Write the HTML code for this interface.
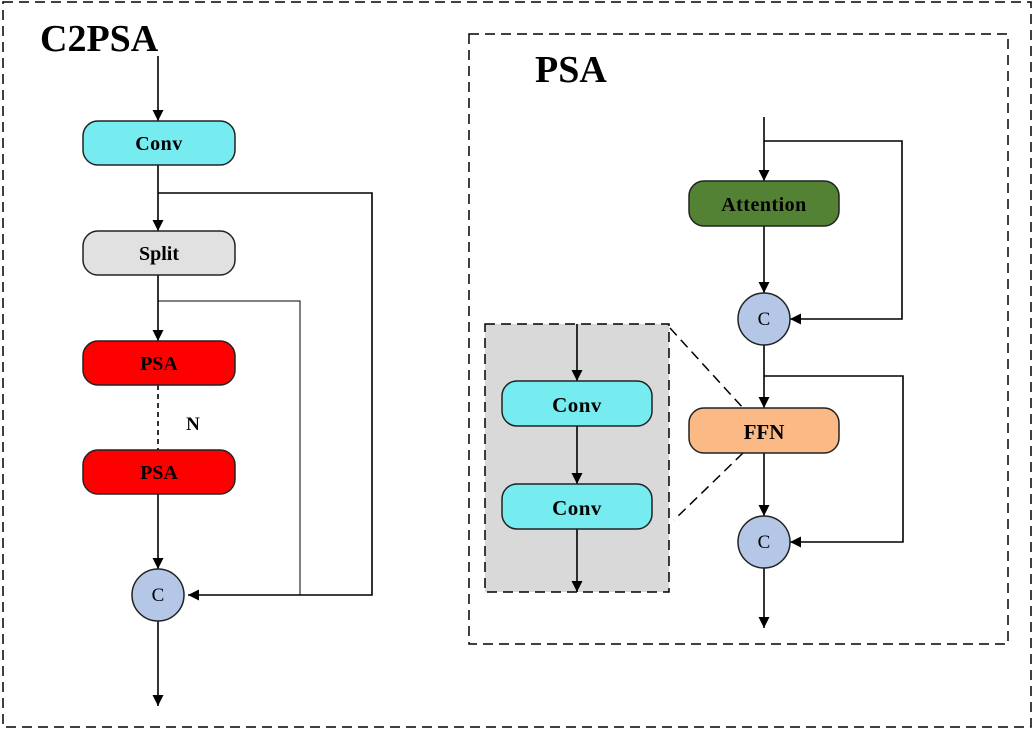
<!DOCTYPE html>
<html><head><meta charset="utf-8"><style>
html,body{margin:0;padding:0;background:#fff;}
svg{display:block;}
text{font-family:"Liberation Serif",serif;font-weight:bold;fill:#000;}
</style></head><body>
<svg width="1034" height="730" viewBox="0 0 1034 730" xmlns="http://www.w3.org/2000/svg">
<defs>
<marker id="a" viewBox="0 0 10 10" refX="10" refY="5" markerWidth="11" markerHeight="11" markerUnits="userSpaceOnUse" orient="auto">
<path d="M0,0 L10,5 L0,10 z" fill="#000"/></marker>
</defs>
<rect x="3" y="2" width="1028" height="725" fill="none" stroke="#000" stroke-width="1.5" stroke-dasharray="10,6"/>
<text x="40" y="51" font-size="38">C2PSA</text>
<g stroke="#000" stroke-width="1.6" fill="none">
<line x1="158" y1="56" x2="158" y2="121" marker-end="url(#a)"/>
<line x1="158" y1="165" x2="158" y2="231" marker-end="url(#a)"/>
<polyline points="158,193 372,193 372,595 188,595" marker-end="url(#a)"/>
<line x1="158" y1="275" x2="158" y2="341" marker-end="url(#a)"/>
<polyline points="158,301 300,301 300,595" stroke-width="1"/>
<line x1="158" y1="385" x2="158" y2="450" stroke-dasharray="5,4"/>
<line x1="158" y1="494" x2="158" y2="569" marker-end="url(#a)"/>
<line x1="158" y1="621" x2="158" y2="706" marker-end="url(#a)"/>
</g>
<g stroke="#222" stroke-width="1.5">
<rect x="83" y="121" width="152" height="44" rx="15" fill="#76ebf0"/>
<rect x="83" y="231" width="152" height="44" rx="15" fill="#e1e1e1"/>
<rect x="83" y="341" width="152" height="44" rx="15" fill="#ff0000"/>
<rect x="83" y="450" width="152" height="44" rx="15" fill="#ff0000"/>
<circle cx="158" cy="595" r="26" fill="#b4c7e7"/>
</g>
<text x="159" y="150" font-size="20" text-anchor="middle" letter-spacing="0.5">Conv</text>
<text x="159" y="260" font-size="20" text-anchor="middle">Split</text>
<text x="159" y="370" font-size="20" text-anchor="middle">PSA</text>
<text x="159" y="479" font-size="20" text-anchor="middle">PSA</text>
<text x="193" y="430" font-size="19" text-anchor="middle">N</text>
<text x="158" y="601" font-size="19" text-anchor="middle" style="font-weight:normal">C</text>

<rect x="469" y="34" width="539" height="610" fill="none" stroke="#000" stroke-width="1.5" stroke-dasharray="10,6"/>
<text x="535" y="82" font-size="38">PSA</text>
<rect x="485" y="324" width="184" height="268" fill="#d9d9d9" stroke="#000" stroke-width="1.5" stroke-dasharray="10,6"/>
<g stroke="#000" stroke-width="1.5" stroke-dasharray="10,6" fill="none">
<line x1="670" y1="328" x2="743" y2="408"/>
<line x1="743" y1="453" x2="674" y2="520"/>
</g>
<g stroke="#000" stroke-width="1.6" fill="none">
<line x1="764" y1="117" x2="764" y2="181" marker-end="url(#a)"/>
<polyline points="764,141 902,141 902,319 790,319" marker-end="url(#a)"/>
<line x1="764" y1="226" x2="764" y2="293" marker-end="url(#a)"/>
<line x1="764" y1="345" x2="764" y2="408" marker-end="url(#a)"/>
<polyline points="764,376 903,376 903,542 790,542" marker-end="url(#a)"/>
<line x1="764" y1="453" x2="764" y2="516" marker-end="url(#a)"/>
<line x1="764" y1="568" x2="764" y2="628" marker-end="url(#a)"/>
<line x1="577" y1="324" x2="577" y2="381" marker-end="url(#a)"/>
<line x1="577" y1="426" x2="577" y2="484" marker-end="url(#a)"/>
<line x1="577" y1="529" x2="577" y2="592" marker-end="url(#a)"/>
</g>
<g stroke="#222" stroke-width="1.5">
<rect x="689" y="181" width="150" height="45" rx="15" fill="#548235"/>
<rect x="689" y="408" width="150" height="45" rx="15" fill="#fbb986"/>
<circle cx="764" cy="319" r="26" fill="#b4c7e7"/>
<circle cx="764" cy="542" r="26" fill="#b4c7e7"/>
<rect x="502" y="381" width="150" height="45" rx="15" fill="#76ebf0"/>
<rect x="502" y="484" width="150" height="45" rx="15" fill="#76ebf0"/>
</g>
<text x="764" y="211" font-size="20" text-anchor="middle" letter-spacing="0.5">Attention</text>
<text x="764" y="439" font-size="21" text-anchor="middle">FFN</text>
<text x="577" y="412" font-size="21" text-anchor="middle" letter-spacing="0.5">Conv</text>
<text x="577" y="515" font-size="21" text-anchor="middle" letter-spacing="0.5">Conv</text>
<text x="764" y="325" font-size="19" text-anchor="middle" style="font-weight:normal">C</text>
<text x="764" y="548" font-size="19" text-anchor="middle" style="font-weight:normal">C</text>
</svg>
</body></html>
